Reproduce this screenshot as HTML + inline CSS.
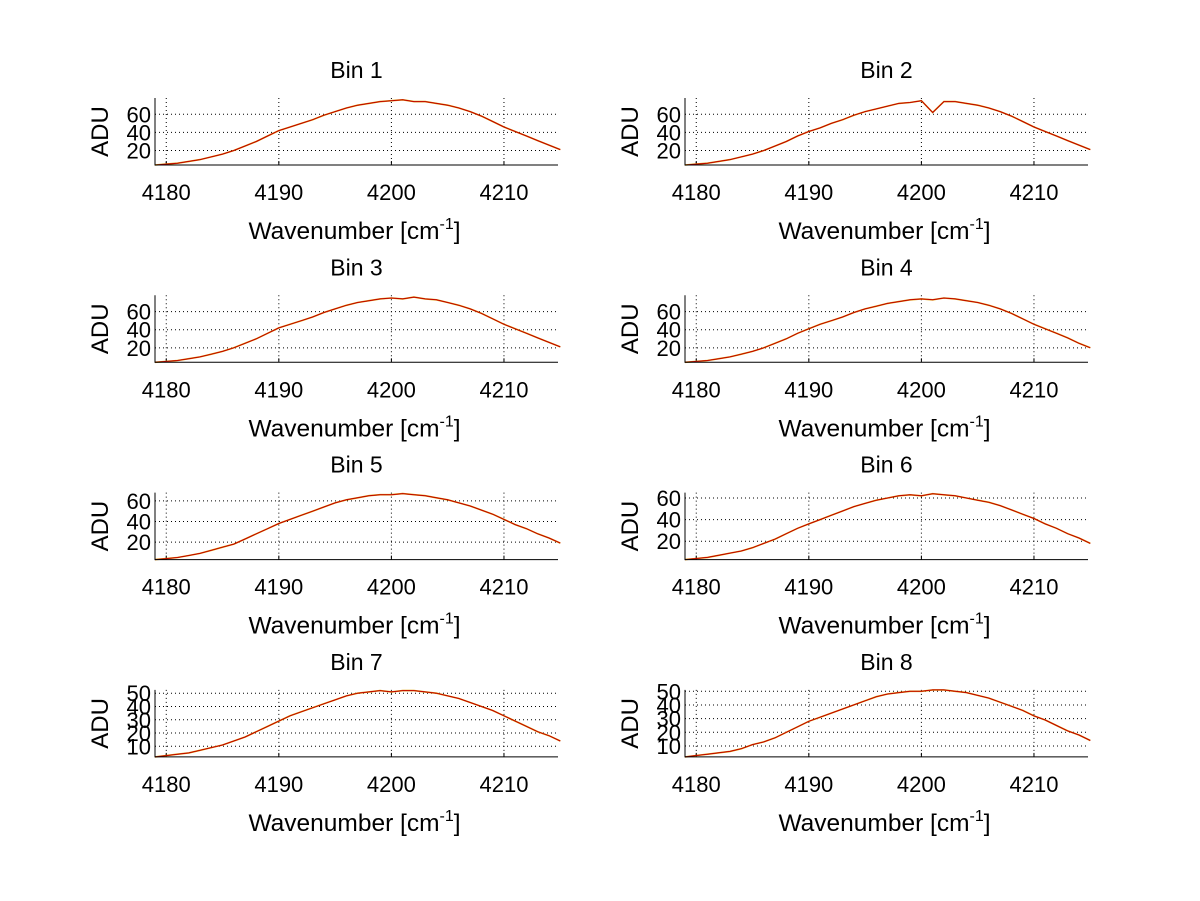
<!DOCTYPE html>
<html><head><meta charset="utf-8"><style>
html,body{margin:0;padding:0;background:#fff}
svg{display:block;font-family:"Liberation Sans",Arial,sans-serif}
</style></head><body>
<svg id="chart" width="1200" height="901" viewBox="0 0 1200 901" xmlns="http://www.w3.org/2000/svg"></svg>
<script>
const xStart = 4179;
const xTicks = [4180, 4190, 4200, 4210];
const binTitles = ["Bin 1","Bin 2","Bin 3","Bin 4","Bin 5","Bin 6","Bin 7","Bin 8"];
const bin1 = [4,5,6,8,10,13,16,20,25,30,36,42,46,50,54,59,63,67,70,72,74,75,76,74,74,72,70,67,63,58,52,46,41,36,31,26,21];
const bin2 = [4,5,6,8,10,13,16,20,25,30,36,41,45,50,54,59,63,66,69,72,73,75,62,74,74,72,70,67,63,58,52,46,41,36,31,26,21];
const bin3 = [4,5,6,8,10,13,16,20,25,30,36,42,46,50,54,59,63,67,70,72,74,75,74,76,74,73,70,67,63,58,52,46,41,36,31,26,21];
const bin4 = [4,5,6,8,10,13,16,20,25,30,36,41,46,50,54,59,63,66,69,71,73,74,73,75,74,72,70,67,63,58,52,46,41,36,31,25,20];
const bin5 = [3,4,5,7,9,12,15,18,23,28,33,38,42,46,50,54,58,61,63,65,66,66,67,66,65,63,61,58,55,51,47,42,37,33,28,24,19];
const bin6 = [3,4,5,7,9,11,14,18,22,27,32,36,40,44,48,52,55,58,60,62,63,62,64,63,62,60,58,56,53,49,45,41,36,32,27,23,18];
const bin7 = [2,3,4,5,7,9,11,14,17,21,25,29,33,36,39,42,45,48,50,51,52,51,52,52,51,50,48,46,43,40,37,33,29,25,21,18,14];
const bin8 = [2,3,4,5,6,8,11,13,16,20,24,28,31,34,37,40,43,46,48,49,50,50,51,51,50,49,47,45,42,39,36,32,29,25,21,18,14];
const binSeries = [bin1,bin2,bin3,bin4,bin5,bin6,bin7,bin8];
const yMins = [4,4,4,4,3,3,2,2];
const yMaxs = [78,78,78,78,68,65,52.5,51];
const yTickSets = [[20,40,60],[20,40,60],[20,40,60],[20,40,60],[20,40,60],[20,40,60],[10,20,30,40,50],[10,20,30,40,50]];

const NS = "http://www.w3.org/2000/svg";
const svg = document.getElementById("chart");
function mk(tag, attrs, parent){
  const e = document.createElementNS(NS, tag);
  for (const k in attrs) e.setAttribute(k, attrs[k]);
  parent.appendChild(e);
  return e;
}
const xMin = 4179, xMax = 4214.8;
for (let i = 0; i < 8; i++) {
  const col = i % 2, row = Math.floor(i / 2);
  const L = 155 + col * 530, R = L + 403;
  const T = 98 + row * 197.3, B = T + 67;
  const yMin = yMins[i], yMax = yMaxs[i];
  const sx = v => L + (v - xMin) / (xMax - xMin) * (R - L);
  const sy = v => B - (v - yMin) / (yMax - yMin) * (B - T);
  const g = mk("g", {}, svg);
  
  
  xTicks.forEach(t => {
    const ln = mk("line", {x1: sx(t), x2: sx(t), y1: T, y2: B, stroke: "#000", "stroke-width": 1, "stroke-dasharray": "1,3"}, g);
    
    
    const tk = mk("line", {x1: sx(t), x2: sx(t), y1: B, y2: B - 4, stroke: "#000"}, g);
    
    
    const lb = mk("text", {x: sx(t), y: B + 35, "text-anchor": "middle", "font-size": 22}, g);
    lb.textContent = t;
    
    
  });
  yTickSets[i].forEach(t => {
    const ln = mk("line", {x1: L, x2: R, y1: sy(t), y2: sy(t), stroke: "#000", "stroke-width": 1, "stroke-dasharray": "1,3"}, g);
    
    
    const lb = mk("text", {x: L - 4, y: sy(t) + 8, "text-anchor": "end", "font-size": 22}, g);
    lb.textContent = t;
    
    
  });
  const data = binSeries[i];
  const pts = data.map((v, k) => sx(xStart + k).toFixed(1) + "," + sy(v).toFixed(1)).join(" ");
  const under = mk("polyline", {points: pts, fill: "none", stroke: "#e0a000", "stroke-width": 1.6}, g);
  
  
  const line = mk("polyline", {points: pts, fill: "none", stroke: "#c00000", "stroke-width": 1}, g);
  
  
  const ax = mk("path", {d: `M${L},${T}V${B}H${R}`, fill: "none", stroke: "#000", "stroke-width": 1}, g);
  
  
  const ti = mk("text", {x: (L + R) / 2, y: T - 20, "text-anchor": "middle", "font-size": 23}, g);
  ti.textContent = binTitles[i];
  
  
  const xl = mk("text", {x: (L + R) / 2 - 2, y: B + 74, "text-anchor": "middle", "font-size": 24.5}, g);
  
  
  xl.appendChild(document.createTextNode("Wavenumber [cm"));
  const sup = mk("tspan", {dy: -10, "font-size": 16}, xl);
  sup.textContent = "-1";
  const cl = mk("tspan", {dy: 10}, xl);
  cl.textContent = "]";
  const yl = mk("text", {x: 0, y: 0, "text-anchor": "middle", "font-size": 24, transform: `translate(${L - 47},${(T + B) / 2}) rotate(-90)`}, g);
  yl.textContent = "ADU";
  
  
}
</script>
</body></html>
